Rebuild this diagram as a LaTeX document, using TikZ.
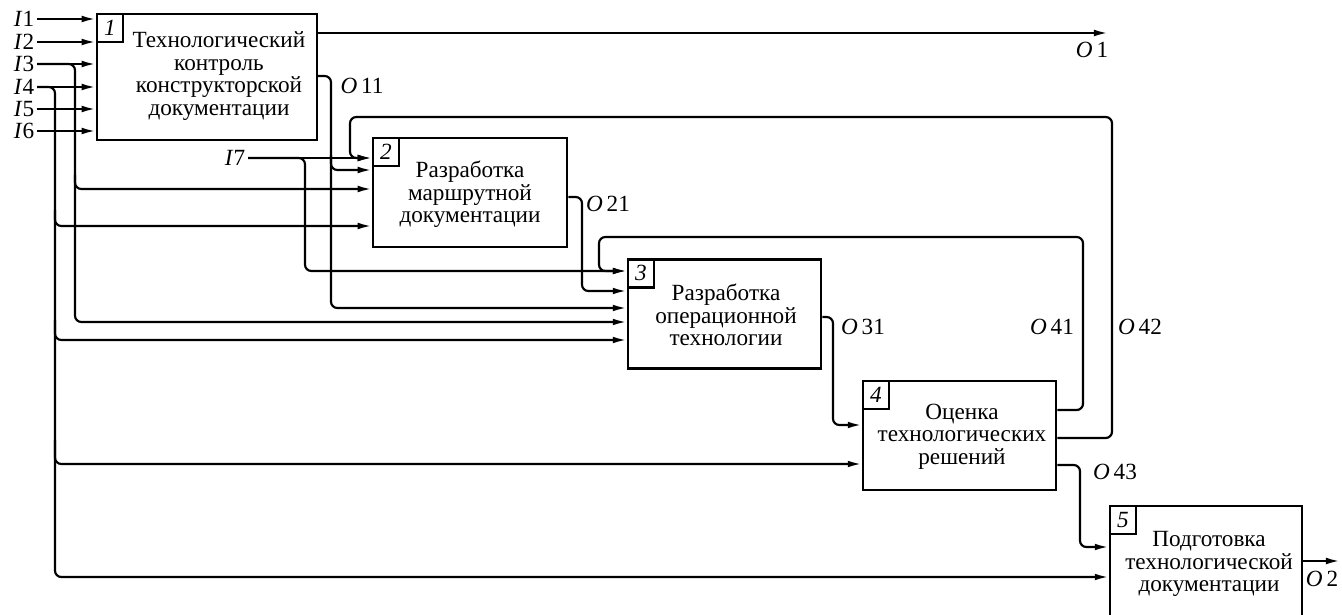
\documentclass[tikz,border=0pt]{standalone}
\usepackage{fontspec}
\setmainfont{Liberation Serif}
\usetikzlibrary{arrows.meta}

\begin{document}
\begin{tikzpicture}[scale=0.1]
        \tikzstyle{every node}+=[inner sep=0pt, font=\fontsize{6.6}{6.4}\selectfont]
        \tikzstyle{blok}=[draw, line width=0.7pt, minimum width=19.3mm, minimum height=10.9mm]
        \tikzstyle{nomer}=[draw, line width=0.65pt, anchor=north west, minimum width=2.6mm, minimum height=2.8mm, font=\fontsize{6.6}{6.4}\selectfont\itshape]
        \tikzstyle{tekst}=[align=center]
        \tikzstyle{vhod}=[anchor=east, inner sep=0.6pt]
        \tikzstyle{strelka}=[line width=0.62pt, rounded corners=1.8pt, -{Latex[length=4pt,width=1.9pt]}]
        \useasboundingbox (0,0) rectangle (134.2,-61.5);
        % bloki
        \node [blok, minimum width=22mm, minimum height=12.6mm] (b1) at (20.7,-7.7) {};
        \node [blok, minimum width=19.4mm] (b2) at (47.0,-19.25) {};
        \node [blok] (b3) at (72.45,-31.4) {};
        \node [blok] (b4) at (95.95,-43.55) {};
        \node [blok, minimum width=19.2mm, minimum height=11.5mm] (b5) at (120.6,-56.35) {};
        \node [nomer] (n1) at (b1.north west) {1};
        \node [nomer] (n2) at (b2.north west) {2};
        \node [nomer] (n3) at (b3.north west) {3};
        \node [nomer] (n4) at (b4.north west) {4};
        \node [nomer] (n5) at (b5.north west) {5};
        \node [tekst] (t1) at (21.9,-7.6) {Технологический\\контроль\\конструкторской\\документации};
        \node [tekst] (t2) at (47.0,-19.45) {Разработка\\маршрутной\\документации};
        \node [tekst] (t3) at (72.6,-31.5) {Разработка\\операционной\\технологии};
        \node [tekst] (t4) at (96.2,-43.65) {Оценка\\технологических\\решений};
        \node [tekst] (t5) at (120.9,-56.4) {Подготовка\\технологической\\документации};
        % vhody
        \node [vhod] (I1) at (3.7,-1.9) {\textit{I}1};
        \node [vhod] (I2) at (3.7,-4.2) {\textit{I}2};
        \node [vhod] (I3) at (3.7,-6.4) {\textit{I}3};
        \node [vhod] (I4) at (3.7,-8.7) {\textit{I}4};
        \node [vhod] (I5) at (3.7,-10.9) {\textit{I}5};
        \node [vhod] (I6) at (3.7,-13.1) {\textit{I}6};
        \node [vhod] (I7) at (24.8,-15.8) {\textit{I}7};
        \draw [strelka] (I1.east) -- (I1.east -| b1.west);
        \draw [strelka] (I2.east) -- (I2.east -| b1.west);
        \draw [strelka] (I3.east) -- (I3.east -| b1.west);
        \draw [strelka] (I4.east) -- (I4.east -| b1.west);
        \draw [strelka] (I5.east) -- (I5.east -| b1.west);
        \draw [strelka] (I6.east) -- (I6.east -| b1.west);
        \draw [strelka] (I3.east) -- (7.5,-6.4) -- (7.5,-18.9) -- (b2.west |- 0,-18.9);
        \draw [strelka] (7.5,-17.5) -- (7.5,-32.2) -- (b3.west |- 0,-32.2);
        \draw [strelka] (I4.east) -- (5.5,-8.7) -- (5.5,-22.6) -- (b2.west |- 0,-22.6);
        \draw [strelka] (5.5,-21) -- (5.5,-34.0) -- (b3.west |- 0,-34.0);
        \draw [strelka] (5.5,-32) -- (5.5,-46.4) -- (b4.west |- 0,-46.4);
        \draw [strelka] (5.5,-44) -- (5.5,-57.7) -- (b5.west |- 0,-57.7);
        \draw [strelka] (I7.east) -- (I7.east -| b2.west);
        \draw [strelka] (I7.east) -- (30.5,-15.8) -- (30.5,-27.1) -- (b3.west |- 0,-27.1);
        % vyhody
        \draw [strelka] (b1.east |- 0,-3.3) -- (110.8,-3.3);
        \draw [strelka] (b1.east |- 0,-7.6) -- (33.1,-7.6) -- (33.1,-17.0) -- (b2.west |- 0,-17.0);
        \draw [strelka] (33.1,-15.5) -- (33.1,-30.8) -- (b3.west |- 0,-30.8);
        \draw [strelka] (b2.east |- 0,-19.7) -- (58.2,-19.7) -- (58.2,-29.1) -- (b3.west |- 0,-29.1);
        \draw [strelka] (b3.east |- 0,-31.7) -- (83.3,-31.7) -- (83.3,-42.5) -- (b4.west |- 0,-42.5);
        \draw [strelka] (b4.east |- 0,-41.0) -- (108.3,-41.0) -- (108.3,-23.7) -- (59.9,-23.7) -- (59.9,-27.1) -- (b3.west |- 0,-27.1);
        \draw [strelka] (b4.east |- 0,-43.8) -- (111.2,-43.8) -- (111.2,-11.7) -- (35.0,-11.7) -- (35.0,-15.8) -- (b2.west |- 0,-15.8);
        \draw [strelka] (b4.east |- 0,-46.5) -- (108.0,-46.5) -- (108.0,-54.7) -- (b5.west |- 0,-54.7);
        \draw [strelka] (b5.east |- 0,-56.1) -- (134.0,-56.1);
        \node (O1) at (109.2,-5.0) {\textit{O}\,1};
        \node (O11) at (36.2,-8.6) {\textit{O}\,11};
        \node (O21) at (60.8,-20.4) {\textit{O}\,21};
        \node (O31) at (86.3,-32.7) {\textit{O}\,31};
        \node (O41) at (105.2,-32.7) {\textit{O}\,41};
        \node (O42) at (114.0,-32.7) {\textit{O}\,42};
        \node (O43) at (111.5,-47.2) {\textit{O}\,43};
        \node (O2) at (132.2,-57.9) {\textit{O}\,2};
\end{tikzpicture}
\end{document}
